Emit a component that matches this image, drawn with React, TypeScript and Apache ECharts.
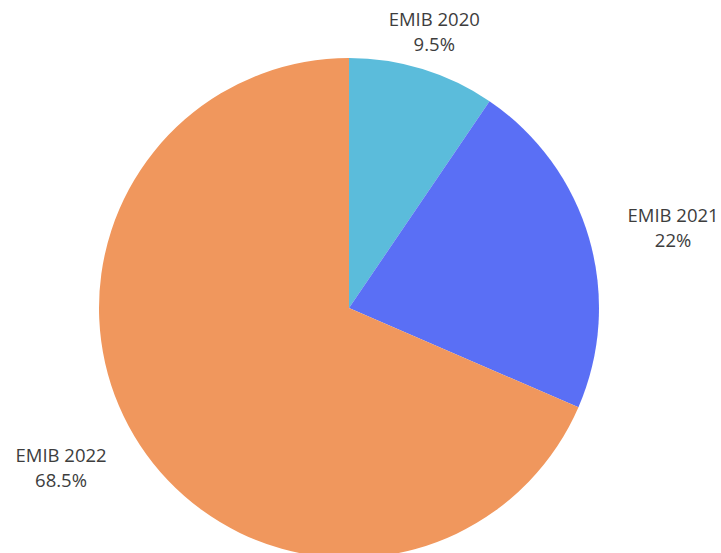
import React, { useEffect, useRef } from "react";
import * as echarts from "echarts";

const categories = ["EMIB 2020", "EMIB 2021", "EMIB 2022"];
const shares = [9.5, 22, 68.5];
const colors = ["#5BBCDB", "#5A6FF5", "#F0975D"];

export default function App() {
  const ref = useRef<HTMLDivElement>(null);
  useEffect(() => {
    if (!ref.current) return;
    const chart = echarts.init(ref.current, undefined, { renderer: "svg" });
    chart.setOption({
      animation: false,
      backgroundColor: "#ffffff",
      series: [
        {
          type: "pie",
          center: [349, 308],
          radius: 250,
          startAngle: 90,
          clockwise: true,
          avoidLabelOverlap: false,
          data: categories.map((name, i) => ({
            name,
            value: shares[i],
            itemStyle: { color: colors[i] },
          })),
          itemStyle: { borderWidth: 0 },
          emphasis: { disabled: true },
          label: {
            show: true,
            position: "outside",
            formatter: "{b}\n{d}%",
            fontFamily: "Open Sans",
            fontSize: 18.5,
            lineHeight: 24.5,
            color: "#3d3d3d",
          },
          labelLine: {
            show: true,
            length: 40,
            length2: 0,
            lineStyle: { opacity: 0 },
          },
          labelLayout: (params: any) => {
            const pts = params.labelLinePoints;
            if (!pts) return {};
            const p = pts[1];
            const ux = pts[1][0] - pts[0][0];
            const uy = pts[1][1] - pts[0][1];
            const len = Math.sqrt(ux * ux + uy * uy) || 1;
            const nx = ux / len;
            const w = params.labelRect.width;
            let x = p[0];
            if (Math.abs(nx) >= 0.5) x = p[0] + Math.sign(nx) * w / 2;
            return { x, y: p[1], align: "center", verticalAlign: "middle" };
          },
        },
      ],
    });
    return () => chart.dispose();
  }, []);
  return (
    <div
      ref={ref}
      style={{ position: "fixed", left: 0, top: 0, width: 721, height: 553 }}
    />
  );
}
